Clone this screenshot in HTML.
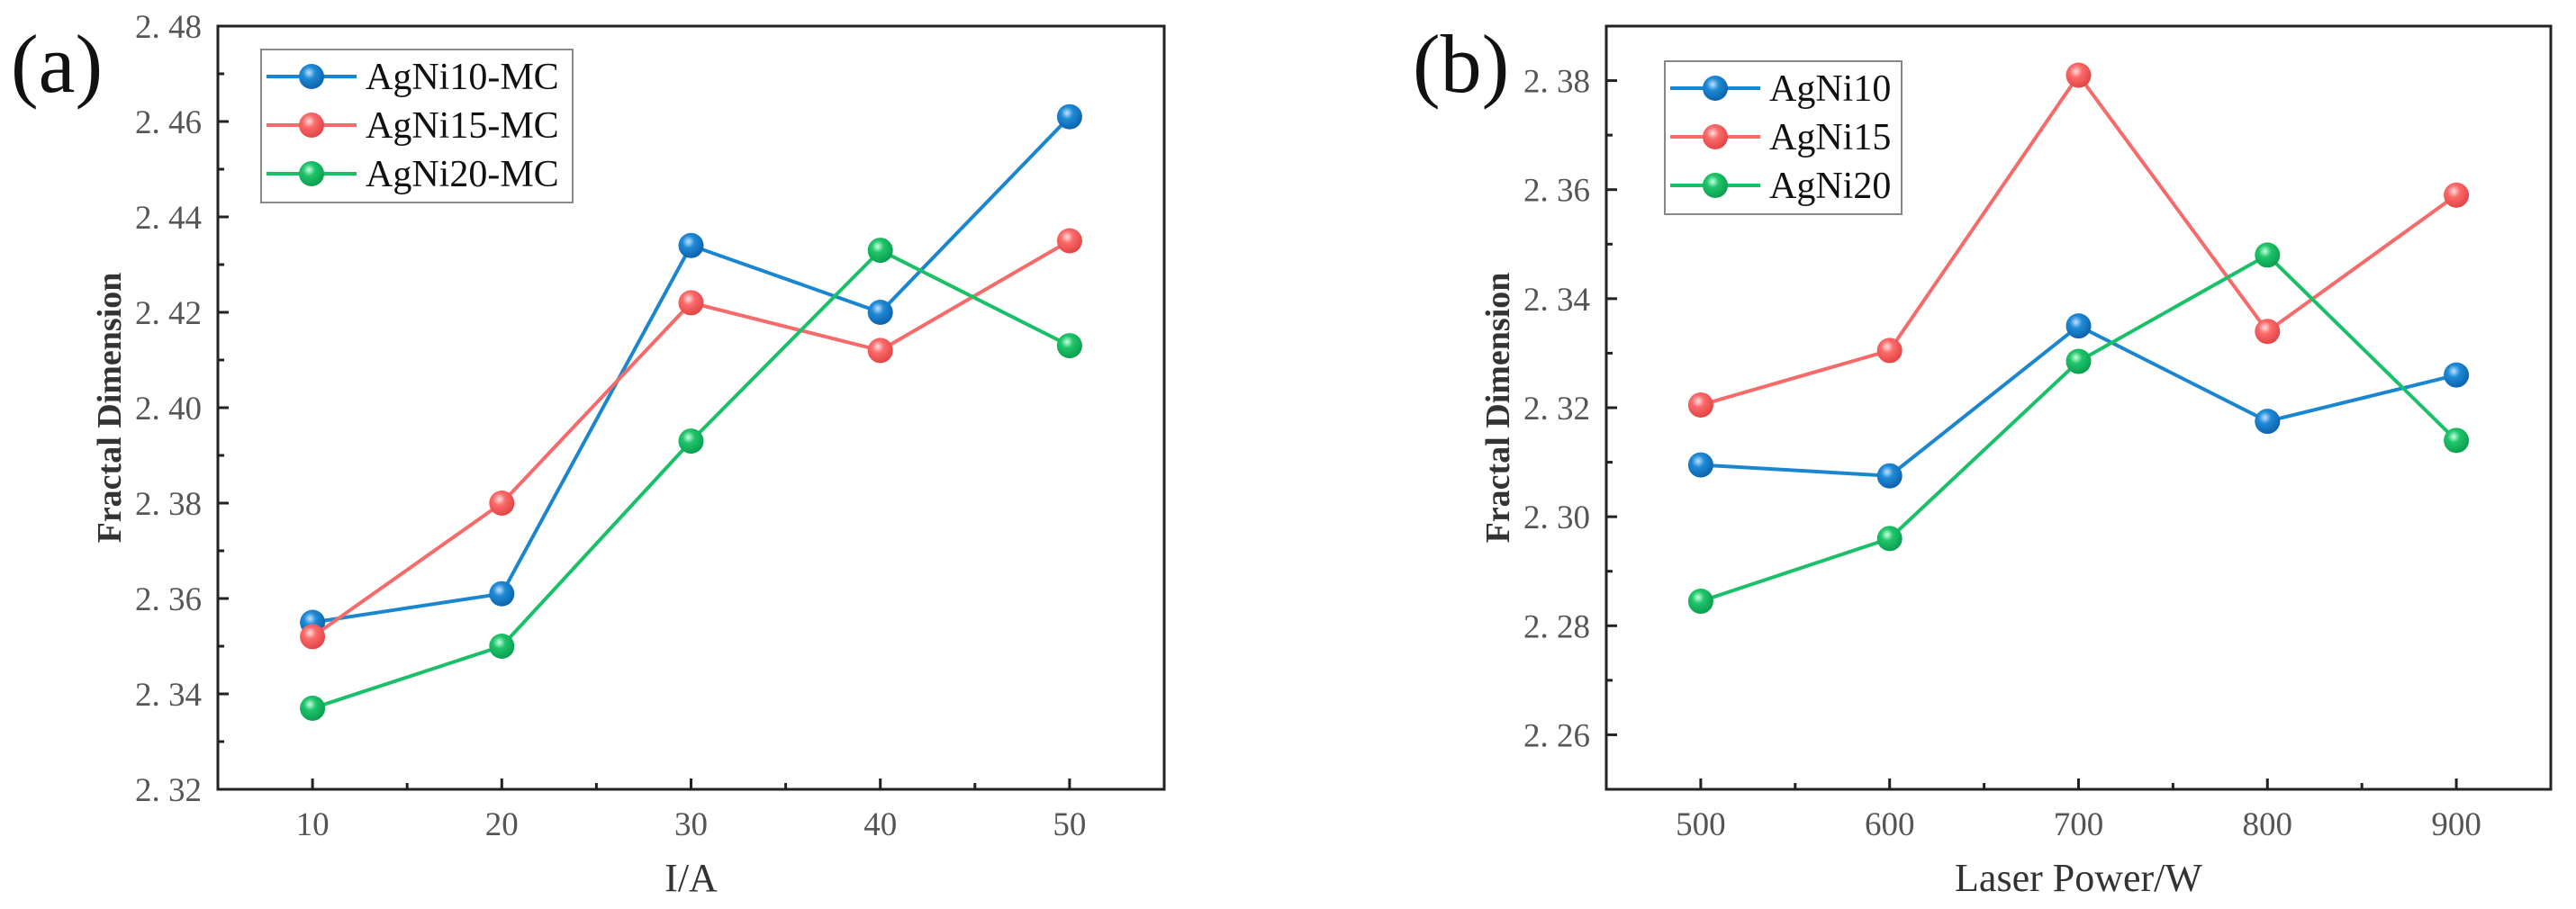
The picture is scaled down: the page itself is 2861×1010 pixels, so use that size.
<!DOCTYPE html>
<html><head><meta charset="utf-8"><style>
html,body{margin:0;padding:0;background:#fff;}
svg{display:block;}
text{font-family:"Liberation Serif",serif;}
</style></head><body>
<svg id="fig" width="2861" height="1010" viewBox="0 0 2861 1010">
<defs>
<radialGradient id="gb" cx="0.4" cy="0.35" r="0.7"><stop offset="0" stop-color="#bfe3ff"/><stop offset="0.35" stop-color="#1f8ad6"/><stop offset="1" stop-color="#0b5ea8"/></radialGradient>
<radialGradient id="gr" cx="0.4" cy="0.35" r="0.7"><stop offset="0" stop-color="#ffe0e0"/><stop offset="0.35" stop-color="#fb6a6a"/><stop offset="1" stop-color="#e04040"/></radialGradient>
<radialGradient id="gg" cx="0.4" cy="0.35" r="0.7"><stop offset="0" stop-color="#c8ffe0"/><stop offset="0.35" stop-color="#1ec46a"/><stop offset="1" stop-color="#0a9a4c"/></radialGradient>
</defs>
</svg>
<script>
const catsA = [10,20,30,40,50];
const a10 = [2.355,2.361,2.434,2.420,2.461];
const a15 = [2.352,2.380,2.422,2.412,2.435];
const a20 = [2.337,2.350,2.393,2.433,2.413];
const yTicksA = ["2.32","2.34","2.36","2.38","2.40","2.42","2.44","2.46","2.48"];
const catsB = [500,600,700,800,900];
const b10 = [2.3095,2.3075,2.335,2.3175,2.326];
const b15 = [2.3205,2.3305,2.381,2.334,2.359];
const b20 = [2.2845,2.296,2.3285,2.348,2.314];
const yTicksB = ["2.26","2.28","2.30","2.32","2.34","2.36","2.38"];

const NS="http://www.w3.org/2000/svg";
const svg=document.getElementById('fig');
function mk(tag,attrs,parent){const e=document.createElementNS(NS,tag);for(const k in attrs)e.setAttribute(k,attrs[k]);(parent||svg).appendChild(e);return e;}
const colors=[["#1a86d0","url(#gb)"],["#f66a6a","url(#gr)"],["#19c068","url(#gg)"]];

function panel(cfg){
  const g=mk('g',{});
  
  
  const L=cfg.L,R=cfg.R,T=29,B=877;
  const sx=v=>L+(v-cfg.xmin)/(cfg.xmax-cfg.xmin)*(R-L);
  const sy=v=>B-(v-cfg.ymin)/(cfg.ymax-cfg.ymin)*(B-T);
  const fr=mk('rect',{x:L,y:T,width:R-L,height:B-T,fill:'none',stroke:'#222','stroke-width':3},g);
  
  cfg.yt.forEach(t=>{const v=parseFloat(t);const y=sy(v);
    mk('line',{x1:L,x2:L+12,y1:y,y2:y,stroke:'#222','stroke-width':3},g);
    const ym=sy(v+cfg.ystep/2); if(ym>T+2) mk('line',{x1:L,x2:L+7,y1:ym,y2:ym,stroke:'#222','stroke-width':3},g);
    const tx=mk('text',{x:L-18,y:y+13,'text-anchor':'end','font-size':37,fill:'#555'},g);tx.textContent=t.replace('.','. ');
    
  });
  const ym0=sy(parseFloat(cfg.yt[0])-cfg.ystep/2); if(ym0<B-2) mk('line',{x1:L,x2:L+7,y1:ym0,y2:ym0,stroke:'#222','stroke-width':3},g);
  cfg.cats.forEach((c,i)=>{const x=sx(c);
    mk('line',{x1:x,x2:x,y1:B,y2:B-12,stroke:'#222','stroke-width':3},g);
    if(i<cfg.cats.length-1){const xm=sx(c+cfg.xstep/2);mk('line',{x1:xm,x2:xm,y1:B,y2:B-7,stroke:'#222','stroke-width':3},g);}
    const tx=mk('text',{x:x,y:928,'text-anchor':'middle','font-size':37,fill:'#555'},g);tx.textContent=c;
    
  });
  const xt=mk('text',{x:(L+R)/2,y:990,'text-anchor':'middle','font-size':44,fill:'#333'},g);xt.textContent=cfg.xlabel;
  
  const yl=mk('text',{x:0,y:0,'text-anchor':'middle','font-size':38,'font-weight':'bold',fill:'#333',transform:`translate(${L-108},${(T+B)/2}) rotate(-90)`},g);yl.textContent='Fractal Dimension';
  
  const pl=mk('text',{x:cfg.plx,y:102,'font-size':92,fill:'#111'},g);pl.textContent=cfg.plabel;
  
  cfg.series.forEach((s,k)=>{
    const pts=s.map((v,i)=>sx(cfg.cats[i])+','+sy(v)).join(' ');
    const ln=mk('polyline',{points:pts,fill:'none',stroke:colors[k][0],'stroke-width':4},g);
    
    s.forEach((v,i)=>{const c=mk('circle',{cx:sx(cfg.cats[i]),cy:sy(v),r:14,fill:colors[k][1]},g);
      });
  });
  const lg=mk('g',{},g);
  
  mk('rect',{x:cfg.lx,y:cfg.ly,width:cfg.lw,height:170,fill:'#fff',stroke:'#888','stroke-width':2},lg);
  cfg.names.forEach((n,k)=>{const y=cfg.ly+30+k*54;
    const e=mk('g',{},lg);
    
    mk('line',{x1:cfg.lx+6,x2:cfg.lx+106,y1:y,y2:y,stroke:colors[k][0],'stroke-width':4},e);
    mk('circle',{cx:cfg.lx+56,cy:y,r:14,fill:colors[k][1]},e);
    const t=mk('text',{x:cfg.lx+116,y:y+14,'font-size':42,fill:'#111'},e);t.textContent=n;
  });
}
panel({name:'chart-a',L:242,R:1293,xmin:5,xmax:55,ymin:2.32,ymax:2.48,ystep:0.02,xstep:10,cats:catsA,yt:yTicksA,
  series:[a10,a15,a20],names:['AgNi10-MC','AgNi15-MC','AgNi20-MC'],xlabel:'I/A',plabel:'(a)',plx:12,lx:290,ly:55,lw:346});
panel({name:'chart-b',L:1784,R:2833,xmin:450,xmax:950,ymin:2.25,ymax:2.39,ystep:0.02,xstep:100,cats:catsB,yt:yTicksB,
  series:[b10,b15,b20],names:['AgNi10','AgNi15','AgNi20'],xlabel:'Laser Power/W',plabel:'(b)',plx:1569,lx:1849,ly:68,lw:263});
</script>
</body></html>
